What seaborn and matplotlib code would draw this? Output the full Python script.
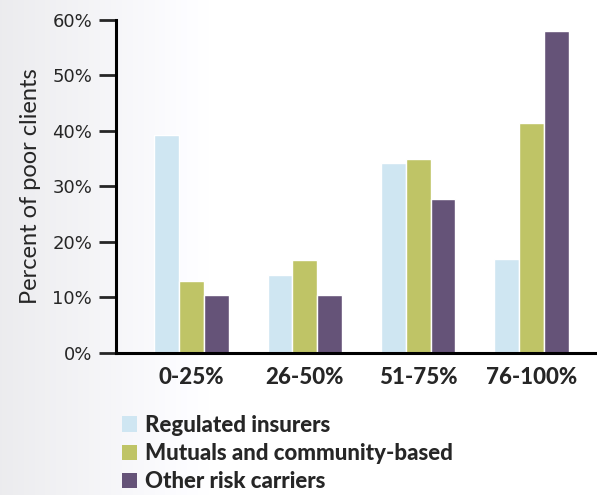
import numpy as np
import pandas as pd
import matplotlib
matplotlib.use("Agg")
import matplotlib.pyplot as plt
import seaborn as sns
from matplotlib.patches import Patch

categories = ["0-25%", "26-50%", "51-75%", "76-100%"]
series = ["Regulated insurers", "Mutuals and community-based", "Other risk carriers"]
regulated = [39.2, 14.0, 34.2, 17.0]
mutuals = [13.0, 16.8, 35.0, 41.5]
other = [10.5, 10.5, 27.8, 58.0]
colors = ["#cfe6f2", "#bfc466", "#655378"]
yticks = [0, 10, 20, 30, 40, 50, 60]
ytick_labels = ["0%", "10%", "20%", "30%", "40%", "50%", "60%"]

df = pd.DataFrame({
    "category": categories * 3,
    "series": [series[0]] * 4 + [series[1]] * 4 + [series[2]] * 4,
    "value": regulated + mutuals + other,
})

sns.set_style("white")
plt.rcParams["font.family"] = ["Lato", "DejaVu Sans"]

fig = plt.figure(figsize=(5.97, 4.95), dpi=100)
# subtle gradient background on the left
grad = np.ones((10, 597, 3))
xs = np.linspace(0, 1, 597)
shade = np.clip(0.925 + 0.075 * (xs / 0.35), 0, 1)
grad[:, :, 0] = shade[None, :]
grad[:, :, 1] = shade[None, :]
grad[:, :, 2] = np.clip(shade + 0.01, 0, 1)[None, :]
bg = fig.add_axes([0, 0, 1, 1], zorder=-10)
bg.imshow(grad, aspect="auto", extent=[0, 1, 0, 1])
bg.axis("off")

ax = fig.add_axes([0.194, 0.287, 0.806, 0.673])
ax.patch.set_alpha(0)
sns.barplot(data=df, x="category", y="value", hue="series", hue_order=series,
            palette=colors, width=0.66, gap=0.0, edgecolor="white", linewidth=1.0,
            legend=False, ax=ax, saturation=1)

ax.set_ylim(0, 60)
ax.set_xlim(-0.67, 3.58)
ax.set_yticks(yticks)
ax.set_yticklabels(ytick_labels, fontsize=13, family=["DejaVu Sans"])
ax.tick_params(axis="y", direction="out", length=12, width=2, pad=5, left=True)
ax.tick_params(axis="x", length=0, pad=10)
for lbl in ax.get_xticklabels():
    lbl.set_fontweight(900)
    lbl.set_fontsize(16)
ax.set_xlabel("")
ax.set_ylabel("Percent of poor clients", fontsize=17, labelpad=8)
for s in ["top", "right"]:
    ax.spines[s].set_visible(False)
ax.spines["left"].set_linewidth(2.2)
ax.spines["bottom"].set_linewidth(2.2)
ax.spines["left"].set_color("black")
ax.spines["bottom"].set_color("black")

handles = [Patch(facecolor=c, edgecolor="none") for c in colors]
fig.legend(handles, series, loc="upper left", bbox_to_anchor=(0.204, 0.162),
           frameon=False, handlelength=0.68, handleheight=0.68, handletextpad=0.37,
           labelspacing=0.33, borderaxespad=0, borderpad=0,
           prop={"weight": 900, "size": 16, "family": ["Lato", "DejaVu Sans"]})

fig.savefig("out.png", dpi=100)
